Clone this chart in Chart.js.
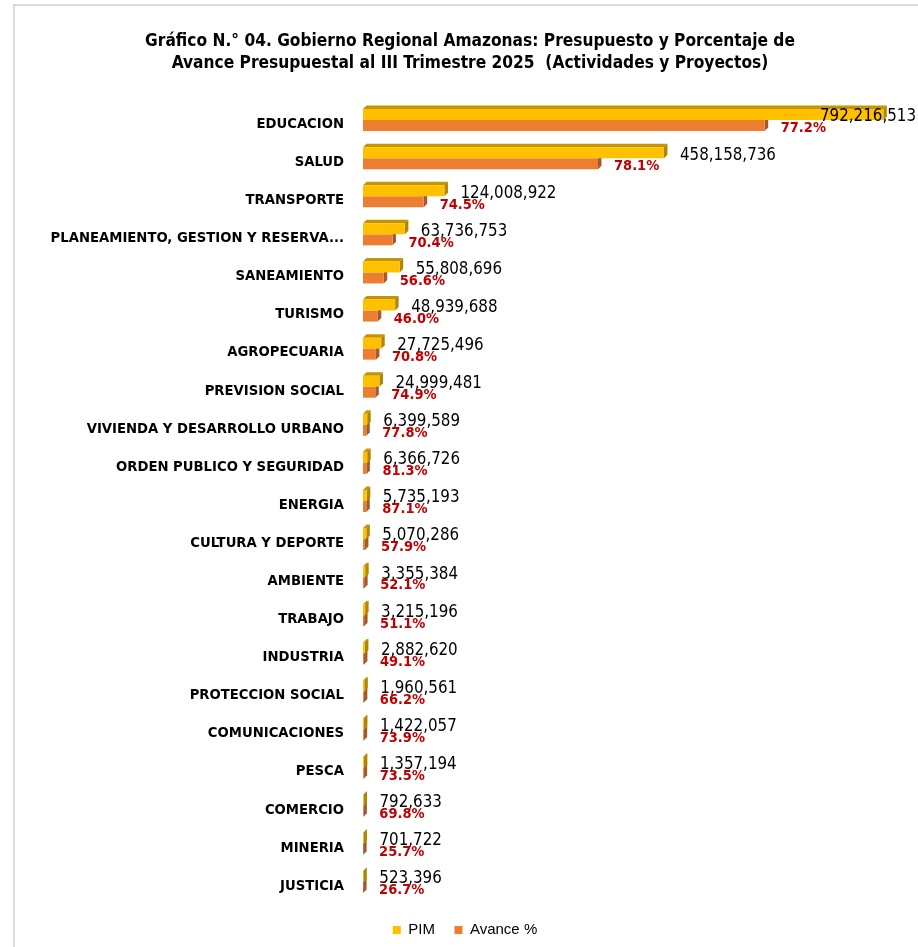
<!DOCTYPE html>
<html>
<head>
<meta charset="utf-8">
<script src="https://cdn.jsdelivr.net/npm/chart.js@4.4.1/dist/chart.umd.min.js"></script>
<style>
  body { margin: 0; background: #fff; }
  #wrap { position: relative; width: 918px; height: 947px; }
  #frame { position: absolute; left: 13px; top: 4px; right: 0; bottom: 0;
           border-left: 2px solid #d9d9d9; border-top: 2px solid #d9d9d9; pointer-events: none; }
</style>
</head>
<body>
<div id="wrap">
  <canvas id="chart" width="918" height="947"></canvas>
  <div id="frame"></div>
</div>
<script>
const titleLines = [
    'Gráfico N.° 04. Gobierno Regional Amazonas: Presupuesto y Porcentaje de',
    'Avance Presupuestal al III Trimestre 2025  (Actividades y Proyectos)'
];
const categories = [
    'EDUCACION', 'SALUD', 'TRANSPORTE', 'PLANEAMIENTO, GESTION Y RESERVA...',
    'SANEAMIENTO', 'TURISMO', 'AGROPECUARIA', 'PREVISION SOCIAL',
    'VIVIENDA Y DESARROLLO URBANO', 'ORDEN PUBLICO Y SEGURIDAD', 'ENERGIA',
    'CULTURA Y DEPORTE', 'AMBIENTE', 'TRABAJO', 'INDUSTRIA', 'PROTECCION SOCIAL',
    'COMUNICACIONES', 'PESCA', 'COMERCIO', 'MINERIA', 'JUSTICIA'
];
// PIM (soles)
const pim = [
    792216513, 458158736, 124008922, 63736753, 55808696, 48939688, 27725496,
    24999481, 6399589, 6366726, 5735193, 5070286, 3355384, 3215196, 2882620,
    1960561, 1422057, 1357194, 792633, 701722, 523396
];
// % de avance (etiqueta roja)
const avancePct = [
    77.2, 78.1, 74.5, 70.4, 56.6, 46.0, 70.8, 74.9, 77.8, 81.3, 87.1,
    57.9, 52.1, 51.1, 49.1, 66.2, 73.9, 73.5, 69.8, 25.7, 26.7
];
// monto ejecutado (largo de la barra naranja)
const ejecutado = [
    611600000, 357800000, 92390000, 44870000, 31590000, 22510000, 19630000,
    18720000, 4979000, 5176000, 4995000, 2936000, 1748000, 1643000, 1415000,
    1298000, 1051000, 997500, 553300, 180300, 139700
];

const NARROW = "'Liberation Sans Narrow', 'Arial Narrow', 'DejaVu Sans Condensed', sans-serif";
const DEPTH = 3.5;

// caras laterales y superiores para el efecto 3D
const bar3d = {
    id: 'bar3d',
    beforeDatasetsDraw(chart) {
        const ctx = chart.ctx;
        const faces = [
            { ds: 1, top: null, side: '#A65A2C' },
            { ds: 0, top: '#C49500', side: '#B08500' }
        ];
        ctx.save();
        faces.forEach(f => {
            chart.getDatasetMeta(f.ds).data.forEach(bar => {
                const { x, y, base, height } = bar.getProps(['x', 'y', 'base', 'height'], true);
                const t = y - height / 2, b = y + height / 2;
                if (f.top) {
                    ctx.fillStyle = f.top;
                    ctx.beginPath();
                    ctx.moveTo(base, t);
                    ctx.lineTo(base + DEPTH, t - DEPTH);
                    ctx.lineTo(x + DEPTH, t - DEPTH);
                    ctx.lineTo(x, t);
                    ctx.closePath();
                    ctx.fill();
                }
                ctx.fillStyle = f.side;
                ctx.beginPath();
                ctx.moveTo(x, t);
                ctx.lineTo(x + DEPTH, t - DEPTH);
                ctx.lineTo(x + DEPTH, b - DEPTH);
                ctx.lineTo(x, b);
                ctx.closePath();
                ctx.fill();
            });
        });
        ctx.restore();
    }
};

// etiquetas de valores
const valueLabels = {
    id: 'valueLabels',
    afterDatasetsDraw(chart) {
        const ctx = chart.ctx;
        ctx.save();
        ctx.textBaseline = 'middle';
        ctx.textAlign = 'left';
        ctx.font = '16.8px ' + NARROW;
        ctx.fillStyle = '#000';
        chart.getDatasetMeta(0).data.forEach((bar, i) => {
            const txt = pim[i].toLocaleString('en-US');
            const w = ctx.measureText(txt).width;
            ctx.fillText(txt, Math.min(bar.x + 16, chart.width - 2 - w), bar.y + 2.5);
        });
        ctx.font = 'bold 14.5px ' + NARROW;
        ctx.fillStyle = '#C00000';
        chart.getDatasetMeta(1).data.forEach((bar, i) => {
            ctx.fillText(avancePct[i].toFixed(1) + '%', bar.x + 16, bar.y + 3);
        });
        ctx.restore();
    }
};

// leyenda un poco mas a la izquierda y abajo, como en el original
const legendShift = {
    id: 'legendShift',
    afterLayout(chart) {
        const lg = chart.legend;
        lg.left -= 5;
        lg.right -= 5;
        lg.top += 2;
        lg.bottom += 2;
    }
};

new Chart(document.getElementById('chart'), {
    type: 'bar',
    data: {
        labels: categories,
        datasets: [
            {
                label: 'PIM',
                data: pim,
                backgroundColor: '#FFC000',
                barPercentage: 1,
                categoryPercentage: 0.577
            },
            {
                label: 'Avance %',
                data: ejecutado,
                backgroundColor: '#ED7D31',
                barPercentage: 1,
                categoryPercentage: 0.577
            }
        ]
    },
    options: {
        indexAxis: 'y',
        responsive: false,
        animation: false,
        layout: { padding: { left: 22, right: 0, top: 0, bottom: 1.5 } },
        plugins: {
            title: {
                display: true,
                text: titleLines,
                color: '#000',
                font: { family: NARROW, size: 17.2, weight: 'bold', lineHeight: 1.28 },
                padding: { top: 31, bottom: 26 }
            },
            legend: {
                position: 'bottom',
                labels: {
                    boxWidth: 8,
                    boxHeight: 8,
                    padding: 19.5,
                    color: '#000',
                    font: { family: "'Liberation Sans', Arial, sans-serif", size: 15 }
                }
            },
            tooltip: { enabled: false }
        },
        scales: {
            x: {
                display: false,
                min: 0,
                max: 845000000
            },
            y: {
                grid: { display: false, drawTicks: false },
                border: { display: false },
                ticks: {
                    color: '#000',
                    padding: 19,
                    labelOffset: 4,
                    font: { family: NARROW, size: 14.7, weight: 'bold' }
                },
                afterFit(scale) { scale.width = 341; }
            }
        }
    },
    plugins: [bar3d, valueLabels, legendShift]
});
</script>
</body>
</html>
